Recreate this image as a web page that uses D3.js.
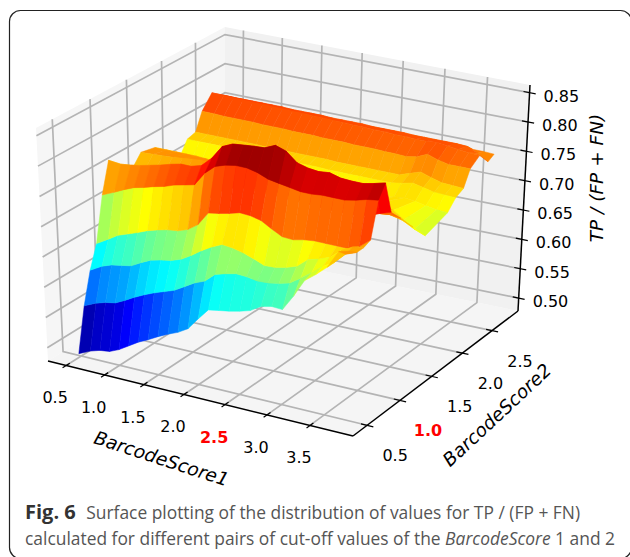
<!DOCTYPE html>
<html>
<meta charset="utf-8">
<style type="text/css">
  html, body { margin: 0; padding: 0; background: #fff; }
  svg { display: block; }
  text { font-family: "DejaVu Sans", sans-serif; }
  .caption { font-family: "Open Sans", "Noto Sans", sans-serif; font-size: 17.4px; fill: #555; }
</style>
<body>
<svg width="630" height="557"></svg>
<script src="https://d3js.org/d3.v7.min.js"></script>
<script>
// cut-off values of the two scores
const xValues = [0.47, 0.625, 0.75, 0.875, 1.0, 1.125, 1.25, 1.375, 1.5, 1.625, 1.75, 1.875, 2.0, 2.125, 2.25, 2.375, 2.5, 2.625, 2.75, 2.875, 3.0, 3.125, 3.25, 3.375, 3.5, 3.625, 3.75];
const yValues = [0.5, 0.6, 0.7, 0.8, 0.9, 1.0, 1.1, 1.25, 1.45, 1.65, 2.0, 2.125, 2.25, 2.35, 2.5, 2.65, 2.75];

// TP / (FP + FN), one row per yValues entry
const row050 = [.481,.490,.495,.497,.504,.514,.524,.532,.541,.549,.556,.566,.586,.605,.608,.611,.615,.620,.631,.635,.634,.660,.690,.704,.720,.750,.755];
const row060 = [.553,.562,.567,.570,.578,.587,.595,.602,.608,.614,.624,.634,.641,.656,.661,.665,.664,.661,.662,.665,.670,.682,.695,.710,.720,.738,.745];
const row070 = [.605,.616,.622,.625,.628,.637,.645,.649,.652,.658,.668,.680,.690,.698,.696,.692,.686,.679,.680,.684,.690,.705,.710,.717,.732,.742,.745];
const row080 = [.642,.654,.664,.670,.676,.683,.688,.692,.694,.700,.712,.735,.738,.742,.747,.746,.742,.732,.723,.722,.726,.728,.728,.728,.728,.735,.750];
const row090 = [.716,.725,.733,.740,.744,.749,.753,.759,.763,.767,.790,.805,.811,.814,.814,.810,.803,.800,.797,.794,.794,.796,.796,.796,.800,.805,.808];
const row100 = [.767,.765,.767,.770,.774,.778,.783,.787,.787,.792,.808,.831,.839,.841,.843,.844,.852,.846,.831,.826,.824,.826,.821,.820,.820,.824,.829];
const row110 = [.700,.700,.702,.705,.708,.710,.712,.715,.720,.730,.745,.755,.760,.762,.765,.765,.765,.762,.758,.756,.755,.755,.755,.756,.760,.767,.773];
const row125 = [.720,.722,.724,.726,.728,.730,.732,.735,.738,.740,.745,.745,.745,.745,.745,.745,.745,.745,.745,.745,.745,.748,.750,.750,.752,.754,.752];
const row145 = [.750,.751,.752,.753,.755,.757,.758,.759,.760,.755,.750,.745,.742,.740,.738,.736,.735,.735,.735,.735,.736,.738,.740,.738,.735,.730,.722];
const row165 = [.745,.745,.745,.745,.745,.744,.743,.742,.740,.735,.730,.725,.722,.720,.720,.720,.720,.720,.722,.724,.726,.730,.734,.724,.712,.700,.693];
const row200 = [.703,.703,.704,.704,.705,.705,.705,.706,.706,.706,.706,.707,.707,.708,.708,.708,.708,.708,.710,.710,.712,.714,.716,.714,.710,.707,.706];
const row212 = [.728,.728,.728,.728,.728,.727,.727,.727,.727,.727,.726,.726,.726,.726,.725,.725,.725,.725,.725,.725,.725,.728,.732,.728,.724,.723,.722];
const row225 = [.732,.732,.732,.732,.732,.732,.732,.731,.731,.731,.731,.731,.731,.731,.730,.730,.730,.730,.730,.730,.730,.736,.742,.736,.731,.730,.729];
const row235 = [.761,.761,.760,.760,.760,.760,.759,.759,.759,.758,.758,.758,.757,.757,.757,.756,.756,.756,.755,.755,.754,.757,.765,.759,.755,.755,.755];
const row250 = [.783,.783,.782,.782,.781,.781,.780,.780,.779,.779,.778,.778,.777,.777,.776,.776,.775,.775,.774,.774,.773,.773,.775,.772,.770,.768,.767];
const row265 = [.770,.770,.770,.770,.770,.770,.770,.769,.769,.769,.769,.768,.768,.768,.768,.767,.767,.767,.767,.766,.766,.766,.766,.766,.765,.757,.746];
const row275 = [.757,.757,.757,.757,.757,.757,.757,.757,.757,.757,.756,.756,.756,.756,.756,.755,.755,.755,.755,.755,.754,.754,.754,.754,.753,.753,.752];
const zRows = [row050, row060, row070, row080, row090, row100, row110, row125, row145, row165, row200, row212, row225, row235, row250, row265, row275];

const xTicks = [0.5, 1.0, 1.5, 2.0, 2.5, 3.0, 3.5];
const yTicks = [0.5, 1.0, 1.5, 2.0, 2.5];
const zTicks = [0.50, 0.55, 0.60, 0.65, 0.70, 0.75, 0.80, 0.85];
const redX = 2.5, redY = 1.0;

const xLabel = "BarcodeScore1";
const yLabel = "BarcodeScore2";
const zLabel = "TP / (FP + FN)";

const jet = ["#00007f","#0000ff","#007fff","#00ffff","#7fff7f","#ffff00","#ff7f00","#ff0000","#7f0000"];
const colorDomain = [0.505, 0.838];

const svg = d3.select("svg");

// frame round the figure
svg.append("rect").attr("x", 9.5).attr("y", 10.5).attr("width", 622).attr("height", 548)
  .attr("rx", 11).attr("fill", "none").attr("stroke", "#222").attr("stroke-width", 1.2);

// data -> unit cube
const xScale = d3.scaleLinear().domain([0.26, 3.99]).range([0, 1]);
const yScale = d3.scaleLinear().domain([0.29, 2.95]).range([0, 1]);
const zScale = d3.scaleLinear().domain([0.478, 0.863]).range([0, 1]);

// corners of the box on the page, order: (0,0) (1,0) (1,1) (0,1)
const floorQuad = [[48, 361], [353, 436], [518, 311], [225, 251]];
const topQuad = [[36, 128], [359, 200], [530, 85], [225, 27]];

// unit square -> quad homography
function squareToQuad(q) {
  const [x0, y0] = q[0], [x1, y1] = q[1], [x2, y2] = q[2], [x3, y3] = q[3];
  const dx1 = x1 - x2, dx2 = x3 - x2, sx = x0 - x1 + x2 - x3;
  const dy1 = y1 - y2, dy2 = y3 - y2, sy = y0 - y1 + y2 - y3;
  const den = dx1 * dy2 - dx2 * dy1;
  const g = (sx * dy2 - dx2 * sy) / den;
  const h = (dx1 * sy - sx * dy1) / den;
  const a = x1 - x0 + g * x1, b = x3 - x0 + h * x3, c = x0;
  const d = y1 - y0 + g * y1, e = y3 - y0 + h * y3, f = y0;
  return (u, v) => {
    const w = g * u + h * v + 1;
    return [(a * u + b * v + c) / w, (d * u + e * v + f) / w];
  };
}
const floorMap = squareToQuad(floorQuad);
const topMap = squareToQuad(topQuad);

function project(x, y, z) {
  const u = xScale(x), v = yScale(y), w = zScale(z);
  const p0 = floorMap(u, v), p1 = topMap(u, v);
  return [p0[0] + (p1[0] - p0[0]) * w, p0[1] + (p1[1] - p0[1]) * w];
}

const [xMin, xMax] = xScale.domain();
const [yMin, yMax] = yScale.domain();
const [zMin, zMax] = zScale.domain();
const line = d3.line();

// walls
const panes = [
  {pts: [[xMin, yMin, zMin], [xMax, yMin, zMin], [xMax, yMax, zMin], [xMin, yMax, zMin]], fill: "#f5f5f5"},
  {pts: [[xMin, yMin, zMin], [xMin, yMax, zMin], [xMin, yMax, zMax], [xMin, yMin, zMax]], fill: "#f6f6f6"},
  {pts: [[xMin, yMax, zMin], [xMax, yMax, zMin], [xMax, yMax, zMax], [xMin, yMax, zMax]], fill: "#f1f1f1"}
];
svg.selectAll(".pane").data(panes).enter().append("path").attr("class", "pane")
  .attr("d", d => line(d.pts.map(p => project(...p))) + "Z")
  .attr("fill", d => d.fill);

// grid, bent along the walls
const gridPaths = [];
xTicks.forEach(t => gridPaths.push([[t, yMin, zMin], [t, yMax, zMin], [t, yMax, zMax]]));
yTicks.forEach(t => gridPaths.push([[xMax, t, zMin], [xMin, t, zMin], [xMin, t, zMax]]));
zTicks.forEach(t => gridPaths.push([[xMin, yMin, t], [xMin, yMax, t], [xMax, yMax, t]]));
svg.selectAll(".grid").data(gridPaths).enter().append("path").attr("class", "grid")
  .attr("d", d => line(d.map(p => project(...p))))
  .attr("fill", "none").attr("stroke", "#b4b4b4").attr("stroke-width", 1.7);

// faces of the surface
const faces = [];
for (let j = 0; j < yValues.length - 1; j++) {
  for (let i = 0; i < xValues.length - 1; i++) {
    const corners = [
      [xValues[i], yValues[j], zRows[j][i]],
      [xValues[i + 1], yValues[j], zRows[j][i + 1]],
      [xValues[i + 1], yValues[j + 1], zRows[j + 1][i + 1]],
      [xValues[i], yValues[j + 1], zRows[j + 1][i]]
    ];
    const mean = d3.mean(corners, c => c[2]);
    // towards the eye = high x, low y, high z
    const depth = d3.mean(corners, c => 0.433 * xScale(c[0]) - 0.75 * yScale(c[1]) + 0.5 * zScale(c[2]));
    faces.push({corners, mean, depth});
  }
}
faces.sort((a, b) => a.depth - b.depth);
const jetScale = d3.scaleLinear()
  .domain(jet.map((c, i) => i / (jet.length - 1)))
  .range(jet).interpolate(d3.interpolateRgb);
const colorNorm = d3.scaleLinear().domain(colorDomain).range([0, 1]).clamp(true);

svg.selectAll(".face").data(faces).enter().append("path").attr("class", "face")
  .attr("d", d => line(d.corners.map(p => project(...p))) + "Z")
  .attr("fill", d => jetScale(colorNorm(d.mean)))
  .attr("stroke", d => jetScale(colorNorm(d.mean)))
  .attr("stroke-width", 0.5).attr("stroke-linejoin", "round");

// axes
const axisPaths = [
  [[xMin, yMin, zMin], [xMax, yMin, zMin]],
  [[xMax, yMin, zMin], [xMax, yMax, zMin]],
  [[xMax, yMax, zMin], [xMax, yMax, zMax]]
];
svg.selectAll(".axis").data(axisPaths).enter().append("path").attr("class", "axis")
  .attr("d", d => line(d.map(p => project(...p))))
  .attr("fill", "none").attr("stroke", "#000").attr("stroke-width", 1.5);

const tickPaths = [];
xTicks.forEach(t => tickPaths.push([[t, yMin + 0.05, zMin], [t, yMin - 0.05, zMin]]));
yTicks.forEach(t => tickPaths.push([[xMax - 0.07, t, zMin], [xMax + 0.07, t, zMin]]));
zTicks.forEach(t => tickPaths.push([[xMax - 0.07, yMax, t], [xMax + 0.07, yMax, t]]));
svg.selectAll(".tick").data(tickPaths).enter().append("path").attr("class", "tick")
  .attr("d", d => line(d.map(p => project(...p))))
  .attr("stroke", "#000").attr("stroke-width", 1.2);

// tick labels
function addLabels(ticks, toPoint, dx, dy, anchor, fmt, red) {
  svg.append("g").selectAll("text").data(ticks).enter().append("text")
    .attr("x", d => toPoint(d)[0] + dx).attr("y", d => toPoint(d)[1] + dy)
    .attr("text-anchor", anchor)
    .attr("font-size", 16)
    .attr("fill", d => d === red ? "#f00" : "#000")
    .attr("font-weight", d => d === red ? "bold" : "normal")
    .text(fmt);
}
addLabels(xTicks, t => project(t, yMin, zMin), -11, 38, "middle", d3.format(".1f"), redX);
addLabels(yTicks, t => project(xMax, t, zMin), 28, 36, "middle", d3.format(".1f"), redY);
addLabels(zTicks, t => project(xMax, yMax, t), 14, 9, "start", d3.format(".2f"), null);

// axis titles
function addTitle(txt, x, y, angle) {
  svg.append("text").attr("transform", `translate(${x},${y}) rotate(${angle})`)
    .attr("text-anchor", "middle").attr("dominant-baseline", "middle")
    .attr("font-size", 18.5).attr("font-style", "italic").text(txt);
}
addTitle(xLabel, 161, 460, 18);
addTitle(yLabel, 498, 416, -43);
addTitle(zLabel, 598, 178, -90);

// caption
const cap1 = svg.append("text").attr("class", "caption").attr("x", 25).attr("y", 519);
cap1.append("tspan").attr("font-weight", "bold").attr("font-size", 20).attr("fill", "#333").text("Fig. 6");
cap1.append("tspan").attr("dx", 6).text(" Surface plotting of the distribution of values for TP / (FP + FN)");
const cap2 = svg.append("text").attr("class", "caption").attr("x", 25).attr("y", 545);
cap2.append("tspan").text("calculated for different pairs of cut-off values of the ");
cap2.append("tspan").attr("font-style", "italic").text("BarcodeScore");
cap2.append("tspan").text(" 1 and 2");
</script>
</body>
</html>
